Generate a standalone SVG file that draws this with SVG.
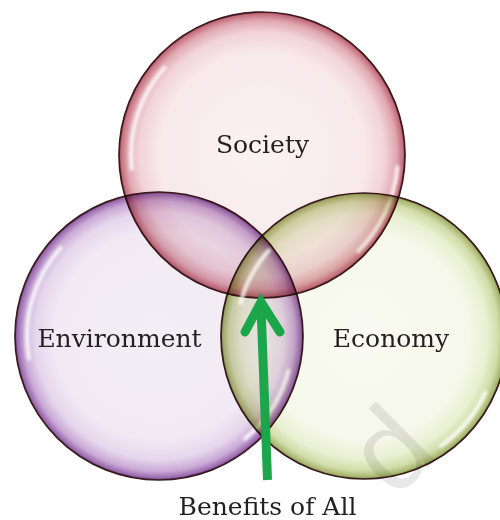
<svg xmlns="http://www.w3.org/2000/svg" width="500" height="520" viewBox="0 0 500 520">
<style>
.fill{mix-blend-mode:multiply;stroke:#3a1a1c;stroke-width:1.7}
.hl{fill:none;stroke:#ffffff;stroke-width:4;stroke-linecap:round;stroke-opacity:0.85;filter:url(#blur)}
.lbl{font-family:"DejaVu Serif","Liberation Serif",serif;font-size:25px;fill:#231f20;text-anchor:middle}
.arr{fill:none;stroke:#1ba64c;stroke-width:9}
</style>
<defs>
<filter id="blur" x="-20%" y="-20%" width="140%" height="140%"><feGaussianBlur stdDeviation="1.4"/></filter>
<radialGradient id="gS" cx="50%" cy="50%" r="50%">
<stop offset="0" stop-color="#fbf2f3"/>
<stop offset="0.72" stop-color="#f8e9eb"/>
<stop offset="0.86" stop-color="#f1d3d8"/>
<stop offset="0.94" stop-color="#e0a8b1"/>
<stop offset="0.985" stop-color="#c5707e"/>
<stop offset="1" stop-color="#9a4050"/>
</radialGradient>
<radialGradient id="gE" cx="50%" cy="50%" r="50%">
<stop offset="0" stop-color="#f3eef5"/>
<stop offset="0.72" stop-color="#f1eaf4"/>
<stop offset="0.86" stop-color="#e6d6ec"/>
<stop offset="0.94" stop-color="#c9a9d6"/>
<stop offset="0.985" stop-color="#9a6aae"/>
<stop offset="1" stop-color="#6a3a80"/>
</radialGradient>
<radialGradient id="gC" cx="50%" cy="50%" r="50%">
<stop offset="0" stop-color="#f9faf1"/>
<stop offset="0.72" stop-color="#f7f8ec"/>
<stop offset="0.86" stop-color="#eaf0d2"/>
<stop offset="0.94" stop-color="#d2dca8"/>
<stop offset="0.985" stop-color="#a8b670"/>
<stop offset="1" stop-color="#7a8a40"/>
</radialGradient>
</defs>
<rect width="500" height="520" fill="#ffffff"/>
<g id="society">
<circle class="fill" cx="262" cy="155" r="143" fill="url(#gS)"/>
<path class="hl" d="M131.7,168.7 A131,131 0 0 1 164.7,67.4"/>
<path class="hl" d="M397.5,166.9 A136,136 0 0 1 358.2,251.2"/>
<text class="lbl" x="262.5" y="153">Society</text>
</g>
<g id="environment">
<circle class="fill" cx="159" cy="336" r="144" fill="url(#gE)"/>
<path class="hl" d="M29,358.9 A132,132 0 0 1 60.9,247.7"/>
<path class="hl" d="M288.4,370.7 A134,134 0 0 1 245.1,438.6"/>
<text class="lbl" x="119.5" y="347">Environment</text>
</g>
<g id="economy">
<circle class="fill" cx="364" cy="336" r="143" fill="url(#gC)"/>
<path class="hl" d="M240.4,302.9 A128,128 0 0 1 268.9,250.4"/>
<path class="hl" d="M485.4,392.6 A134,134 0 0 1 440.9,445.8"/>
<text class="lbl" x="391" y="347">Economy</text>
</g>
<text x="395" y="500" transform="rotate(-45 395 500)" font-family="Liberation Sans, sans-serif" font-size="115" fill="#000000" fill-opacity="0.09">d</text>
<g id="connectors">
<line class="arr" x1="267.5" y1="480" x2="261" y2="306"/>
<polyline class="arr" points="245,332 261,302 280,332" stroke-linecap="round" stroke-linejoin="miter"/>
</g>
<g id="benefits">
<text class="lbl" x="267.5" y="515">Benefits of All</text>
</g>
</svg>
